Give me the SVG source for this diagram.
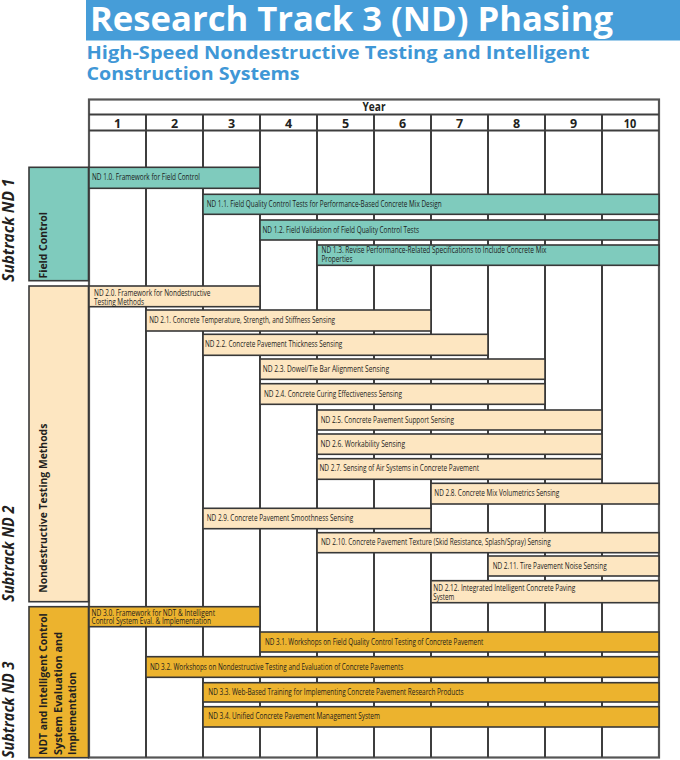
<svg xmlns="http://www.w3.org/2000/svg" width="680" height="760" viewBox="0 0 680 760">
<style>
.grid{stroke:#3e3e3e;stroke-width:2;fill:none}
.frame{stroke:#555;stroke-width:2.2;fill:#fff}
.teal{fill:#7fcbbd;stroke:#383838;stroke-width:1.6}
.peach{fill:#fde6c1;stroke:#383838;stroke-width:1.6}
.gold{fill:#ecb32e;stroke:#383838;stroke-width:1.6}
.bt{font-family:"Liberation Sans Narrow","Open Sans",sans-serif;font-size:9.2px;fill:#1c1c1c}
.bt2{font-family:"Liberation Sans Narrow","Open Sans",sans-serif;font-size:8.4px;fill:#1c1c1c}
.hd{font-family:"Open Sans",sans-serif;font-weight:bold;font-size:12.5px;text-anchor:middle;fill:#231f20}
.lab{font-family:"Open Sans",sans-serif;font-weight:bold;font-size:10.5px;fill:#231f20}
.sub{font-family:"Open Sans",sans-serif;font-weight:bold;font-style:italic;font-size:15.5px;fill:#231f20}
.title{font-family:"Open Sans",sans-serif;font-weight:bold;font-size:33.5px;fill:#fff}
.subt{font-family:"Open Sans",sans-serif;font-weight:bold;font-size:17.6px;fill:#3f97d6}
</style>
<rect width="680" height="760" fill="#fff"/>
<g id="title">
<rect x="86" y="0" width="594" height="40.5" fill="#469dd8"/>
<text class="title" x="90" y="31" textLength="523" lengthAdjust="spacingAndGlyphs">Research Track 3 (ND) Phasing</text>
<text class="subt" x="86.5" y="59.3" textLength="503" lengthAdjust="spacingAndGlyphs">High-Speed Nondestructive Testing and Intelligent</text>
<text class="subt" x="86.5" y="80" textLength="213" lengthAdjust="spacingAndGlyphs">Construction Systems</text>
</g>
<g id="table-grid">
<rect class="frame" x="89" y="99.5" width="570" height="658"/>
<line class="grid" x1="89" y1="114.5" x2="659" y2="114.5"/>
<line class="grid" x1="89" y1="130.5" x2="659" y2="130.5"/>
<path class="grid" d="M146 114.5V757.5M203 114.5V757.5M260 114.5V757.5M317 114.5V757.5M374 114.5V757.5M431 114.5V757.5M488 114.5V757.5M545 114.5V757.5M602 114.5V757.5"/>
<text class="hd" x="374" y="111" textLength="23" lengthAdjust="spacingAndGlyphs">Year</text>
<text class="hd" x="117.5" y="128">1</text>
<text class="hd" x="174.5" y="128">2</text>
<text class="hd" x="231.5" y="128">3</text>
<text class="hd" x="288.5" y="128">4</text>
<text class="hd" x="345.5" y="128">5</text>
<text class="hd" x="402.5" y="128">6</text>
<text class="hd" x="459.5" y="128">7</text>
<text class="hd" x="516.5" y="128">8</text>
<text class="hd" x="573.5" y="128">9</text>
<text class="hd" x="630" y="128" textLength="12.5" lengthAdjust="spacingAndGlyphs">10</text>
</g>
<g id="subtrack-nd1">
<rect class="teal" x="29" y="167.3" width="59.5" height="113.4"/>
<text class="lab" transform="translate(46.5,278.5) rotate(-90)" textLength="66.5" lengthAdjust="spacingAndGlyphs">Field Control</text>
<text class="sub" transform="translate(13.6,281.7) rotate(-90)" textLength="103" lengthAdjust="spacingAndGlyphs">Subtrack ND 1</text>
</g>
<g id="subtrack-nd2">
<rect class="peach" x="29" y="286" width="59.5" height="315.7"/>
<text class="lab" transform="translate(46.8,592.7) rotate(-90)" textLength="169" lengthAdjust="spacingAndGlyphs">Nondestructive Testing Methods</text>
<text class="sub" transform="translate(13.6,601.7) rotate(-90)" textLength="96" lengthAdjust="spacingAndGlyphs">Subtrack ND 2</text>
</g>
<g id="subtrack-nd3">
<rect class="gold" x="29" y="606.7" width="59.5" height="151"/>
<text class="lab" transform="translate(46.7,755) rotate(-90)" textLength="141.7" lengthAdjust="spacingAndGlyphs">NDT and Intelligent Control</text>
<text class="lab" transform="translate(61.7,755) rotate(-90)" textLength="123" lengthAdjust="spacingAndGlyphs">System Evaluation and</text>
<text class="lab" transform="translate(76,755) rotate(-90)" textLength="83" lengthAdjust="spacingAndGlyphs">Implementation</text>
<text class="sub" transform="translate(13.6,758) rotate(-90)" textLength="96.5" lengthAdjust="spacingAndGlyphs">Subtrack ND 3</text>
</g>
<g id="nd1-0"><rect class="teal" x="89" y="167.3" width="171" height="21"/><text class="bt" x="92" y="179.8" textLength="108" lengthAdjust="spacingAndGlyphs">ND 1.0.  Framework for Field Control</text></g>
<g id="nd1-1"><rect class="teal" x="203" y="194.3" width="456" height="20"/><text class="bt" x="206.7" y="207" textLength="235" lengthAdjust="spacingAndGlyphs">ND 1.1.  Field Quality Control Tests for Performance-Based Concrete Mix Design</text></g>
<g id="nd1-2"><rect class="teal" x="260" y="220" width="399" height="20"/><text class="bt" x="262.5" y="232.6" textLength="156.5" lengthAdjust="spacingAndGlyphs">ND 1.2.  Field Validation of Field Quality Control Tests</text></g>
<g id="nd1-3"><rect class="teal" x="317" y="245" width="342" height="20.3"/><text class="bt2" x="321.5" y="253.3" textLength="225" lengthAdjust="spacingAndGlyphs">ND 1.3.  Revise Performance-Related Specifications to Include Concrete Mix</text><text class="bt2" x="321.5" y="262.3" textLength="31" lengthAdjust="spacingAndGlyphs">Properties</text></g>
<g id="nd2-0"><rect class="peach" x="89" y="286" width="171" height="20.7"/><text class="bt2" x="94" y="296" textLength="116.5" lengthAdjust="spacingAndGlyphs">ND 2.0.  Framework for Nondestructive</text><text class="bt2" x="94" y="304.5" textLength="50" lengthAdjust="spacingAndGlyphs">Testing Methods</text></g>
<g id="nd2-1"><rect class="peach" x="146" y="310" width="285" height="21"/><text class="bt" x="149.3" y="323.2" textLength="185.7" lengthAdjust="spacingAndGlyphs">ND 2.1.  Concrete Temperature, Strength, and Stiffness Sensing</text></g>
<g id="nd2-2"><rect class="peach" x="203" y="334.3" width="285" height="21"/><text class="bt" x="205" y="347.3" textLength="137.3" lengthAdjust="spacingAndGlyphs">ND 2.2.  Concrete Pavement Thickness Sensing</text></g>
<g id="nd2-3"><rect class="peach" x="260" y="359" width="285" height="20.3"/><text class="bt" x="262.7" y="371.8" textLength="126.3" lengthAdjust="spacingAndGlyphs">ND 2.3.  Dowel/Tie Bar Alignment Sensing</text></g>
<g id="nd2-4"><rect class="peach" x="260" y="383.7" width="285" height="20.6"/><text class="bt" x="264" y="396.5" textLength="138" lengthAdjust="spacingAndGlyphs">ND 2.4.  Concrete Curing Effectiveness Sensing</text></g>
<g id="nd2-5"><rect class="peach" x="317" y="410" width="285" height="20"/><text class="bt" x="320.7" y="422.6" textLength="133.3" lengthAdjust="spacingAndGlyphs">ND 2.5.  Concrete Pavement Support Sensing</text></g>
<g id="nd2-6"><rect class="peach" x="317" y="434" width="285" height="20.3"/><text class="bt" x="320.5" y="446.7" textLength="84.5" lengthAdjust="spacingAndGlyphs">ND 2.6.  Workability Sensing</text></g>
<g id="nd2-7"><rect class="peach" x="317" y="458.7" width="285" height="20.6"/><text class="bt" x="319.5" y="471.4" textLength="159.5" lengthAdjust="spacingAndGlyphs">ND 2.7.  Sensing of Air Systems in Concrete Pavement</text></g>
<g id="nd2-8"><rect class="peach" x="431" y="483.3" width="228" height="20.7"/><text class="bt" x="434.3" y="496.2" textLength="125" lengthAdjust="spacingAndGlyphs">ND 2.8.  Concrete Mix Volumetrics Sensing</text></g>
<g id="nd2-9"><rect class="peach" x="203" y="508.3" width="228" height="20.4"/><text class="bt" x="206.7" y="521" textLength="146.6" lengthAdjust="spacingAndGlyphs">ND 2.9.  Concrete Pavement Smoothness Sensing</text></g>
<g id="nd2-10"><rect class="peach" x="317" y="532.7" width="342" height="20"/><text class="bt" x="321" y="545.3" textLength="229.7" lengthAdjust="spacingAndGlyphs">ND 2.10.  Concrete Pavement Texture (Skid Resistance, Splash/Spray) Sensing</text></g>
<g id="nd2-11"><rect class="peach" x="488" y="556" width="171" height="20"/><text class="bt" x="492.7" y="568.6" textLength="114" lengthAdjust="spacingAndGlyphs">ND 2.11.  Tire Pavement Noise Sensing</text></g>
<g id="nd2-12"><rect class="peach" x="431" y="580.7" width="228" height="22"/><text class="bt2" x="433.3" y="590.8" textLength="142" lengthAdjust="spacingAndGlyphs">ND 2.12.  Integrated Intelligent Concrete Paving</text><text class="bt2" x="433.3" y="599.6" textLength="21" lengthAdjust="spacingAndGlyphs">System</text></g>
<g id="nd3-0"><rect class="gold" x="89" y="606.7" width="171" height="20"/><text class="bt2" x="91.5" y="615.8" textLength="123.5" lengthAdjust="spacingAndGlyphs">ND 3.0.  Framework for NDT &amp; Intelligent</text><text class="bt2" x="91.5" y="624.4" textLength="119.5" lengthAdjust="spacingAndGlyphs">Control System Eval. &amp; Implementation</text></g>
<g id="nd3-1"><rect class="gold" x="260" y="632" width="399" height="20"/><text class="bt" x="265" y="644.6" textLength="218.3" lengthAdjust="spacingAndGlyphs">ND 3.1.  Workshops on Field Quality Control Testing of Concrete Pavement</text></g>
<g id="nd3-2"><rect class="gold" x="146" y="656.7" width="513" height="20.6"/><text class="bt" x="150" y="669.5" textLength="253.3" lengthAdjust="spacingAndGlyphs">ND 3.2.  Workshops on Nondestructive Testing and Evaluation of Concrete Pavements</text></g>
<g id="nd3-3"><rect class="gold" x="203" y="682.7" width="456" height="19.3"/><text class="bt" x="208.3" y="695" textLength="255.4" lengthAdjust="spacingAndGlyphs">ND 3.3.  Web-Based Training for Implementing Concrete Pavement Research Products</text></g>
<g id="nd3-4"><rect class="gold" x="203" y="706.7" width="456" height="20.3"/><text class="bt" x="208.3" y="719.4" textLength="171.7" lengthAdjust="spacingAndGlyphs">ND 3.4.  Unified Concrete Pavement Management System</text></g>
<g id="connectors"></g>
</svg>
